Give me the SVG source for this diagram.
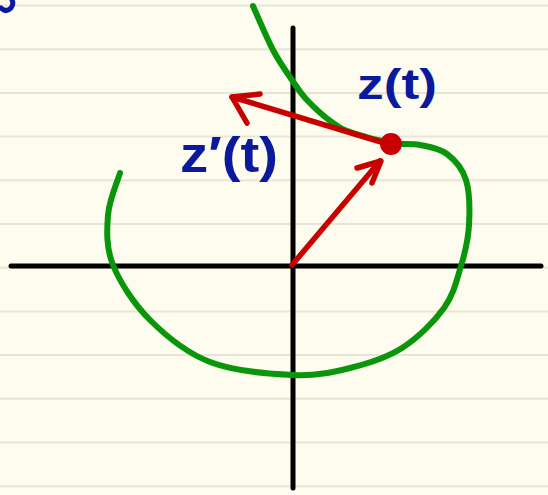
<svg xmlns="http://www.w3.org/2000/svg" width="548" height="495" viewBox="0 0 548 495">
<style>
.rule{stroke:#e8e5d8;stroke-width:2}
.axis{stroke:#000;stroke-width:5;stroke-linecap:round;fill:none}
.curve{stroke:#0a960a;stroke-width:6;stroke-linecap:round;stroke-linejoin:round;fill:none}
.vec{stroke:#c80000;stroke-width:5.5;stroke-linecap:round;stroke-linejoin:round;fill:none}
.lbl{font-family:"Liberation Sans",Arial,sans-serif;font-weight:bold;fill:#0b1a9c}
</style>
<rect width="548" height="495" fill="#fdfcee"/>
<g id="paper-lines">
<line class="rule" x1="0" y1="5.5" x2="548" y2="5.5"/>
<line class="rule" x1="0" y1="49.2" x2="548" y2="49.2"/>
<line class="rule" x1="0" y1="92.9" x2="548" y2="92.9"/>
<line class="rule" x1="0" y1="136.6" x2="548" y2="136.6"/>
<line class="rule" x1="0" y1="180.3" x2="548" y2="180.3"/>
<line class="rule" x1="0" y1="224" x2="548" y2="224"/>
<line class="rule" x1="0" y1="267.7" x2="548" y2="267.7"/>
<line class="rule" x1="0" y1="311.4" x2="548" y2="311.4"/>
<line class="rule" x1="0" y1="355.1" x2="548" y2="355.1"/>
<line class="rule" x1="0" y1="398.8" x2="548" y2="398.8"/>
<line class="rule" x1="0" y1="442.5" x2="548" y2="442.5"/>
<line class="rule" x1="0" y1="486.2" x2="548" y2="486.2"/>
</g>
<path d="M1 8 Q6 13 11 8 Q14 4 12 0" stroke="#0b1a9c" stroke-width="5" fill="none" stroke-linecap="round"/>
<g id="axes">
<line class="axis" x1="11" y1="266" x2="541" y2="266"/>
<line class="axis" x1="293" y1="28" x2="293" y2="488"/>
</g>
<g id="curve">
<path class="curve" d="M120 173 C118 180 109.2 199.7 108 215 C106.8 230.3 106 247.5 113 265 C120 282.5 133.8 303.8 150 320 C166.2 336.2 186.2 352.8 210 362 C233.8 371.2 269.7 374 293 375 C316.3 376 331.8 372.5 350 368 C368.2 363.5 386.3 358 402 348 C417.7 338 434.2 321.7 444 308 C453.8 294.3 456.8 279.8 461 266 C465.2 252.2 468.2 239.3 469 225 C469.8 210.7 469.7 191.8 466 180 C462.3 168.2 454.7 159.8 447 154 C439.3 148.2 429.2 146.8 420 145 C410.8 143.2 403.2 145 392 143 C380.8 141 362.8 136.3 353 133 C343.2 129.7 340.7 128.5 333 123 C325.3 117.5 313.8 107.2 307 100 C300.2 92.8 297.7 88.3 292 80 C286.3 71.7 279.5 62.3 273 50 C266.5 37.7 256.3 13.3 253 6"/>
</g>
<g id="connectors">
<g id="vec-z">
<line class="vec" x1="292" y1="265" x2="380" y2="161"/>
<polyline class="vec" points="357,168 381,161 372,183"/>
</g>
<g id="vec-zprime">
<line class="vec" x1="391" y1="145" x2="232" y2="97"/>
<polyline class="vec" points="260,94 232,97 247,123"/>
</g>
</g>
<g id="point">
<circle cx="391" cy="144" r="11" fill="#c80000"/>
</g>
<g id="label-z">
<text class="lbl" x="357" y="99" font-size="42" textLength="80" lengthAdjust="spacingAndGlyphs">z(t)</text>
</g>
<g id="label-zprime">
<text class="lbl" x="180" y="172" font-size="50" textLength="98" lengthAdjust="spacingAndGlyphs">z′(t)</text>
</g>
</svg>
